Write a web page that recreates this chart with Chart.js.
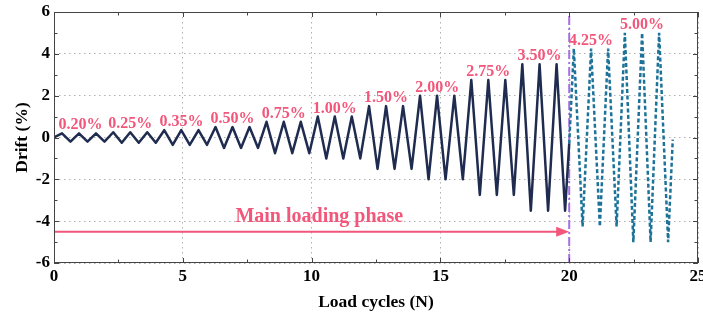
<!DOCTYPE html>
<html>
<head>
<meta charset="utf-8">
<script src="https://cdn.jsdelivr.net/npm/chart.js@4/dist/chart.umd.min.js"></script>
<style>
  html, body { margin: 0; padding: 0; background: #fff; }
  #wrap { width: 703px; height: 313px; }
</style>
</head>
<body>
<div id="wrap"><canvas id="driftChart" width="703" height="313"></canvas></div>
<script>
// main loading phase: peak / trough positions per cycle and the drift level of each cycle
const peakX = [0.31, 0.97, 1.63, 2.30, 2.96, 3.62, 4.28, 4.94, 5.61, 6.27,
               6.93, 7.59, 8.25, 8.92, 9.58, 10.24, 10.90, 11.56, 12.23, 12.89,
               13.55, 14.21, 14.87, 15.54, 16.20, 16.86, 17.52, 18.18, 18.85, 19.51];
const troughX = [0.64, 1.30, 1.96, 2.63, 3.29, 3.95, 4.61, 5.27, 5.94, 6.60,
                 7.26, 7.92, 8.58, 9.25, 9.91, 10.57, 11.23, 11.89, 12.56, 13.22,
                 13.88, 14.54, 15.20, 15.87, 16.53, 17.19, 17.85, 18.51, 19.18, 19.84];
const cycleAmp = [0.2, 0.2, 0.2, 0.25, 0.25, 0.25, 0.35, 0.35, 0.35, 0.5, 0.5, 0.5,
                  0.75, 0.75, 0.75, 1.0, 1.0, 1.0, 1.5, 1.5, 1.5, 2.0, 2.0, 2.0,
                  2.75, 2.75, 2.75, 3.5, 3.5, 3.5];
const mainStart = { x: 0, y: 0 };
const mainEnd = { x: 20, y: -0.3 };

// after the main phase (dashed)
const extraX = [20, 20.18, 20.52, 20.85, 21.19, 21.51, 21.84, 22.16, 22.49, 22.83, 23.16, 23.49, 23.84, 24.02];
const extraY = [-0.3, 4.25, -4.25, 4.25, -4.25, 4.25, -4.25, 5.0, -5.0, 5.0, -5.0, 5.0, -5.0, -0.1];

// drift level marks
const levels = [0.2, 0.25, 0.35, 0.5, 0.75, 1.0, 1.5, 2.0, 2.75, 3.5, 4.25, 5.0];
const levelLabels = ['0.20%', '0.25%', '0.35%', '0.50%', '0.75%', '1.00%', '1.50%', '2.00%', '2.75%', '3.50%', '4.25%', '5.00%'];
const levelFrom = [0.31, 2.30, 4.28, 6.27, 8.25, 10.24, 12.23, 14.21, 16.20, 18.18, 20.18, 22.16];
const levelTo = [1.75, 3.62, 5.61, 7.59, 9.58, 11.56, 13.55, 15.54, 17.52, 19.51, 21.51, 23.49];
const levelColors = ['#f0607e', '#4b93b5', '#f2c531', '#3fc27a', '#5070c0', '#8a9aa8',
                     '#f0607e', '#86a6c6', '#f09222', '#2fd4e4', '#7a88a8', '#98a898'];

const phaseEnd = 20;
const arrowY = -4.5;
const phaseText = 'Main loading phase';

const pink = '#f2567a';
const serif = "'Liberation Serif', 'Times New Roman', serif";

// build point lists
const mainData = [mainStart];
for (let i = 0; i < peakX.length; i++) {
    mainData.push({ x: peakX[i], y: cycleAmp[i] });
    mainData.push({ x: troughX[i], y: -cycleAmp[i] });
}
mainData.push(mainEnd);

const extraData = extraX.map((x, i) => ({ x: x, y: extraY[i] }));

const levelSets = levels.map((lv, i) => ({
    data: [{ x: levelFrom[i], y: lv }, { x: levelTo[i], y: lv }],
    borderColor: levelColors[i],
    borderWidth: 1.5,
    borderDash: [4, 3],
    pointRadius: 0,
    order: 5
}));

const extras = {
    id: 'extras',
    afterDatasetsDraw(chart) {
        const { ctx, chartArea: a, scales: { x, y } } = chart;
        ctx.save();

        // frame
        ctx.strokeStyle = '#444';
        ctx.lineWidth = 1;
        ctx.strokeRect(a.left + 0.5, a.top + 0.5, a.right - a.left - 1, a.bottom - a.top - 1);

        // inner ticks
        ctx.beginPath();
        for (let v = -6; v <= 6; v += 1) {
            const py = Math.round(y.getPixelForValue(v)) + 0.5;
            const len = v % 2 === 0 ? 5 : 3.5;
            ctx.moveTo(a.left, py); ctx.lineTo(a.left + len, py);
            ctx.moveTo(a.right, py); ctx.lineTo(a.right - len, py);
        }
        for (let v = 0; v <= 25; v += 2.5) {
            const px = Math.round(x.getPixelForValue(v)) + 0.5;
            const len = v % 5 === 0 ? 5 : 3.5;
            ctx.moveTo(px, a.bottom); ctx.lineTo(px, a.bottom - len);
            ctx.moveTo(px, a.top); ctx.lineTo(px, a.top + len);
        }
        ctx.stroke();

        // level labels
        ctx.fillStyle = pink;
        ctx.font = 'bold 16px ' + serif;
        ctx.textAlign = 'center';
        ctx.textBaseline = 'alphabetic';
        levels.forEach((lv, i) => {
            const cx = x.getPixelForValue((levelFrom[i] + levelTo[i]) / 2);
            ctx.fillText(levelLabels[i], cx, y.getPixelForValue(lv) - 4);
        });

        // arrow head + phase text
        const ax = x.getPixelForValue(phaseEnd);
        const ay = y.getPixelForValue(arrowY);
        ctx.beginPath();
        ctx.moveTo(ax, ay);
        ctx.lineTo(ax - 13, ay - 5);
        ctx.lineTo(ax - 13, ay + 5);
        ctx.closePath();
        ctx.fill();

        ctx.font = 'bold 20px ' + serif;
        ctx.textBaseline = 'middle';
        ctx.fillText(phaseText, x.getPixelForValue(10.3), ay - 15);
        ctx.restore();
    }
};

new Chart(document.getElementById('driftChart'), {
    type: 'scatter',
    data: {
        datasets: [
            {
                data: mainData,
                showLine: true,
                borderColor: '#1f2c4f',
                borderWidth: 2.5,
                borderJoinStyle: 'round',
                pointRadius: 0,
                order: 1
            },
            {
                data: extraData,
                showLine: true,
                borderColor: '#1d7299',
                borderWidth: 2.5,
                borderDash: [4, 2.5],
                pointRadius: 0,
                order: 2
            },
            {
                data: [{ x: 0, y: arrowY }, { x: phaseEnd - 0.4, y: arrowY }],
                showLine: true,
                borderColor: pink,
                borderWidth: 2,
                pointRadius: 0,
                order: 3
            },
            {
                data: [{ x: phaseEnd, y: -6 }, { x: phaseEnd, y: 6 }],
                showLine: true,
                borderColor: '#a76fe0',
                borderWidth: 2,
                borderDash: [9, 3, 2, 3],
                pointRadius: 0,
                order: 4
            },
            ...levelSets
        ]
    },
    options: {
        responsive: false,
        animation: false,
        layout: { padding: { left: 6, top: 12, right: 5, bottom: 0 } },
        plugins: { legend: { display: false }, tooltip: { enabled: false } },
        scales: {
            x: {
                type: 'linear',
                min: 0,
                max: 25,
                ticks: {
                    stepSize: 5,
                    color: '#000',
                    padding: 3,
                    maxRotation: 0,
                    font: { family: serif, weight: 'bold', size: 17 }
                },
                grid: { color: '#b0b0b0', lineWidth: 1, drawTicks: false },
                border: { display: false, dash: [1.5, 3.5] },
                title: {
                    display: true,
                    text: 'Load cycles (N)',
                    color: '#000',
                    padding: { top: 0, bottom: 0 },
                    font: { family: serif, weight: 'bold', size: 17.5 }
                },
                afterFit(scale) {
                    scale.height = 50;
                    scale.paddingLeft = 0;
                    scale.paddingRight = 0;
                }
            },
            y: {
                min: -6,
                max: 6,
                ticks: {
                    stepSize: 2,
                    color: '#000',
                    padding: 4,
                    font: { family: serif, weight: 'bold', size: 17 }
                },
                grid: { color: '#b0b0b0', lineWidth: 1, drawTicks: false },
                border: { display: false, dash: [1.5, 3.5] },
                title: {
                    display: true,
                    text: 'Drift (%)',
                    color: '#000',
                    padding: { top: 6, bottom: 0 },
                    font: { family: serif, weight: 'bold', size: 17.5 }
                },
                afterFit(scale) {
                    scale.width = 48;
                    scale.paddingTop = 0;
                    scale.paddingBottom = 0;
                }
            }
        }
    },
    plugins: [extras]
});
</script>
</body>
</html>
